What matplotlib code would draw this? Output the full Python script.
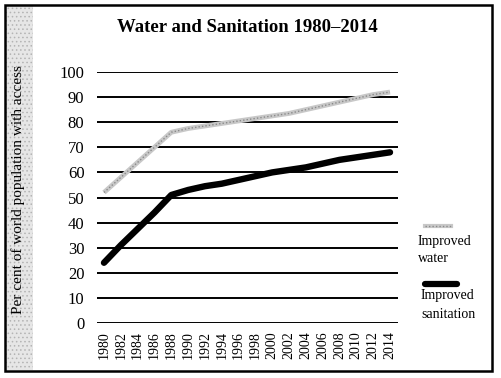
import numpy as np
import matplotlib.pyplot as plt
from matplotlib.patches import Rectangle
from matplotlib.lines import Line2D

# dados
anos = [1980, 1982, 1984, 1986, 1988, 1990, 1992, 1994, 1996,
        1998, 2000, 2002, 2004, 2006, 2008, 2010, 2012, 2014]
agua = [52, 58, 64, 70, 76, 77.5, 78.5, 79.5, 80.5,
        81.5, 82.5, 83.5, 85, 86.5, 88, 89.5, 91, 92]
saneamento = [24, 31, 37.5, 44, 51, 53, 54.5, 55.5, 57,
              58.5, 60, 61, 62, 63.5, 65, 66, 67, 68]
y_ticks = [0, 10, 20, 30, 40, 50, 60, 70, 80, 90, 100]

plt.rcParams['font.family'] = ['Liberation Serif', 'DejaVu Serif']
plt.rcParams['hatch.linewidth'] = 0.6

W, H = 501, 378
fig = plt.figure(figsize=(W / 100, H / 100), dpi=100)

def fx(px):
    return px / W

def fy(py):
    return 1 - py / H

# faixa pontilhada a esquerda e moldura
fig.patches.append(Rectangle((fx(6), fy(370)), fx(27), (364) / H,
                             transform=fig.transFigure, facecolor='#e6e6e6',
                             edgecolor='#b4b4b4', hatch='....', lw=0, zorder=0))
fig.patches.append(Rectangle((fx(5), fy(371)), fx(487), 366 / H,
                             transform=fig.transFigure, fill=False,
                             edgecolor='black', lw=1.8, zorder=5))

ax = fig.add_axes([fx(97), fy(323), fx(301), 251 / H])
ax.set_xlim(1979.17, 2014.95)
ax.set_ylim(0, 100)
for s in ax.spines.values():
    s.set_visible(False)

# linhas horizontais
for v in y_ticks:
    ax.axhline(v, color='black', lw=1.4, zorder=1)

# agua: linha cinza texturizada
ax.plot(anos, agua, color='#c8c8c8', lw=3.5, zorder=3, solid_capstyle='butt')
ax.plot(anos, agua, color='#8a8a8a', lw=1.0, ls=(0, (1, 1.5)), zorder=4)
# saneamento
ax.plot(anos, saneamento, color='black', lw=4.6, zorder=5, solid_capstyle='round')

ax.set_xticks(anos)
ax.set_xticklabels([str(a) for a in anos], rotation=90, fontsize=10)
ax.set_yticks(y_ticks)
ax.set_yticklabels([str(v) for v in y_ticks], fontsize=12)
ax.tick_params(length=0, pad=9, axis='y')
ax.tick_params(length=0, pad=6, axis='x')

fig.text(fx(247), fy(28), 'Water and Sanitation 1980\u20132014', ha='center',
         va='center', fontsize=13.5, fontweight='bold')
fig.text(fx(18), fy(190), 'Per cent of world population with access',
         rotation=90, ha='center', va='center', fontsize=11)

# legenda
fig.lines.append(Line2D([fx(425), fx(451)], [fy(226), fy(226)], transform=fig.transFigure,
                        color='#c8c8c8', lw=3))
fig.lines.append(Line2D([fx(425), fx(451)], [fy(226), fy(226)], transform=fig.transFigure,
                        color='#8a8a8a', lw=1, ls=(0, (1, 1.5))))
fig.text(fx(418), fy(250), 'Improved\nwater', ha='left', va='center', fontsize=10,
         linespacing=1.5)
fig.lines.append(Line2D([fx(425), fx(457)], [fy(284), fy(284)], transform=fig.transFigure,
                        color='black', lw=4.5, solid_capstyle='round'))
fig.text(fx(421), fy(305), 'Improved\nsanitation', ha='left', va='center', fontsize=10,
         linespacing=1.5)

fig.savefig('out.png', dpi=100)
